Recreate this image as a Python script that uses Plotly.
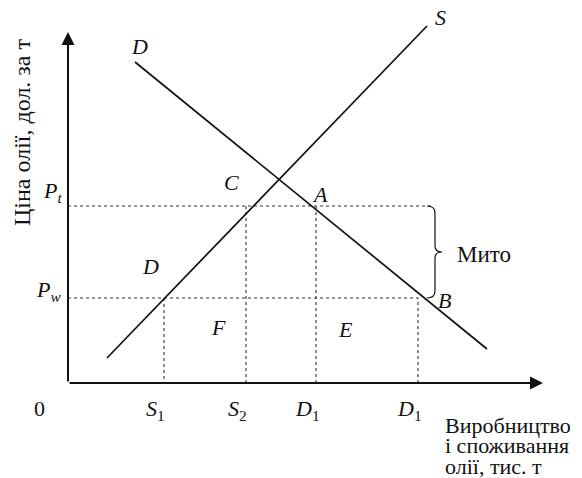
import plotly.graph_objects as go

# quantities on the x axis (thousand tonnes, diagram units)
q_names = ["S<sub>1</sub>", "S<sub>2</sub>", "D<sub>1</sub>", "D<sub>1</sub>"]
q_values = [96, 178, 248, 350]
q_price = ["pw", "pt", "pt", "pw"]  # which price level each guide line starts at

# price levels
pw = 85
pt = 177

# supply and demand lines (end points)
supply_x = [39, 359]
supply_y = [25, 357]
demand_x = [67, 419]
demand_y = [321, 34]

# axis ends
x_end = 475
y_end = 351

FONT = "Liberation Serif"
INK = "#111111"

fig = go.Figure()

# dotted guide lines
dot = dict(color="#333333", width=1.1, dash="dot")
fig.add_trace(go.Scatter(x=[0, 364], y=[pt, pt], mode="lines", line=dot))
fig.add_trace(go.Scatter(x=[0, q_values[3], q_values[3]], y=[pw, pw, 0], mode="lines", line=dot))
for q, p in zip(q_values[:3], q_price[:3]):
    top = pt if p == "pt" else pw
    fig.add_trace(go.Scatter(x=[q, q], y=[top, 0], mode="lines", line=dot))

# supply and demand
fig.add_trace(go.Scatter(x=supply_x, y=supply_y, mode="lines", line=dict(color=INK, width=1.7)))
fig.add_trace(go.Scatter(x=demand_x, y=demand_y, mode="lines", line=dict(color=INK, width=1.7)))

# brace for the tariff ("Мито")
bx = 367
mid = (pt + pw) / 2
brace = (f"M {bx-8},{pt} Q {bx},{pt} {bx},{pt-7} L {bx},{mid+6} "
         f"Q {bx},{mid} {bx+7},{mid} Q {bx},{mid} {bx},{mid-6} "
         f"L {bx},{pw+7} Q {bx},{pw} {bx-8},{pw}")
fig.add_shape(type="path", path=brace, xref="x", yref="y",
              line=dict(color=INK, width=1.2))

# axes with arrows
for ax_, ay_, x_, y_ in [(0, 0, x_end, 0), (0, 0, 0, y_end)]:
    fig.add_annotation(x=x_, y=y_, ax=ax_, ay=ay_, xref="x", yref="y",
                       axref="x", ayref="y", showarrow=True, arrowhead=2,
                       arrowsize=1.3, arrowwidth=2, arrowcolor=INK, text="")


def label(x, y, text, size=22, **kw):
    fig.add_annotation(x=x, y=y, xref="x", yref="y", text=text, showarrow=False,
                       font=dict(family=FONT, size=size, color=INK), **kw)


# letters on the diagram
label(71, 337, "<i>D</i>")
label(372, 366, "<i>S</i>")
label(163, 201, "<i>C</i>")
label(252, 189, "<i>A</i>")
label(82, 117, "<i>D</i>")
label(376, 83, "<i>B</i>")
label(150, 56, "<i>F</i>")
label(277, 54, "<i>E</i>")
label(416, 129, "Мито", size=23)

# price labels
label(-16, pt + 14, "<i>P</i><sub><i>t</i></sub>")
label(-20, pw + 7, "<i>P</i><sub><i>w</i></sub>")

# quantity labels
label(-29, -25, "0")
for q, name in zip(q_values, q_names):
    label(q, -27, "<i>" + name[0] + "</i>" + name[1:], xshift=-9)

# axis titles
label(-46, 250, "Ціна олії, дол. за т", size=24, textangle=-90)
for i, line in enumerate(["Виробництво", "і споживання", "олії, тис. т"]):
    label(375, -42 - 20.5 * i, line, size=22, xanchor="left")

fig.update_xaxes(range=[-68, 514], visible=False)
fig.update_yaxes(range=[-95, 383], visible=False)
fig.update_layout(width=582, height=478, margin=dict(l=0, r=0, t=0, b=0),
                  plot_bgcolor="white", paper_bgcolor="white", showlegend=False)
fig.write_html("out.html", config={"displayModeBar": False},
               post_script="document.body.style.margin='0';")
